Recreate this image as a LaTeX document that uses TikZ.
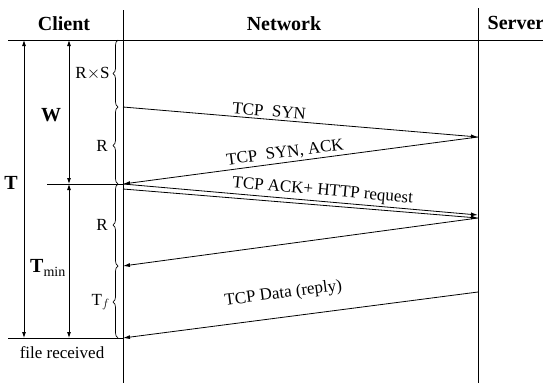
\documentclass[tikz,border=0pt]{standalone}
\usepackage{fontspec}
\setmainfont{Liberation Serif}
\usetikzlibrary{arrows.meta,decorations.pathreplacing}

\begin{document}
\begin{tikzpicture}[x=1pt, y=-1pt,
	msg/.style={line width=0.8pt, -{Latex[length=7pt,width=4pt]}},
	span/.style={line width=0.8pt, {Latex[length=6pt,width=4pt]}-{Latex[length=6pt,width=4pt]}},
	brc/.style={line width=0.7pt, decorate, decoration={brace, amplitude=5pt}},
	lbl/.style={font=\fontsize{17}{19}\selectfont, inner sep=2pt},
	head/.style={font=\fontsize{20}{22}\selectfont\bfseries}]
	\useasboundingbox (0,0) rectangle (543,383);
	% lifelines and time axis
	\draw[line width=1pt] (123,10) -- (123,383);
	\draw[line width=1pt] (478,8) -- (478,383);
	\draw[line width=0.9pt] (8,40) -- (543,40);
	\draw[line width=0.9pt] (47,184) -- (123,184);
	\draw[line width=0.9pt] (8,338) -- (123,338);
	\node[head] (client) at (64,24) {Client};
	\node[head] (network) at (284,24) {Network};
	\node[head] (server) at (516,23) {Server};
	% points on the lifelines
	\coordinate (c1) at (123,107);
	\coordinate (c2) at (123,184);
	\coordinate (c2b) at (123,189);
	\coordinate (c3) at (123,266);
	\coordinate (c4) at (123,338);
	\coordinate (s1) at (478,137);
	\coordinate (s2) at (478,215);
	\coordinate (s2b) at (478,218);
	\coordinate (s3) at (478,292);
	% messages
	\draw[msg] (c1) -- node[lbl, sloped, above, pos=0.41] {TCP\ \ SYN} (s1);
	\draw[msg] (s1) -- (c2) node[lbl, sloped, above, pos=0.54] {TCP\ \ SYN, ACK};
	\draw[msg] (c2) -- node[lbl, sloped, above, pos=0.56] {TCP ACK+ HTTP request} (s2);
	\draw[msg] (c2b) -- (s2b);
	\draw[msg] (s2b) -- (c3);
	\draw[msg] (s3) -- (c4) node[lbl, sloped, above=13pt, pos=0.54] {TCP Data (reply)};
	% braces
	\draw[brc] (118,107) -- node[lbl, left=6pt] (rs) {R${\times}$S} (118,40);
	\draw[brc] (118,184) -- node[lbl, left=8pt] (r1) {R} (118,107);
	\draw[brc] (118,266) -- node[lbl, left=8pt] (r2) {R} (118,184);
	\draw[brc] (118,338) -- node[lbl, left=6pt] (tf) {T$_f$} (118,266);
	% intervals
	\draw[span] (24,40) -- (24,338);
	\draw[span] (69,40) -- (69,184);
	\draw[span] (69,184) -- (69,338);
	\node[head] (ttot) at (11,183) {T};
	\node[head] (wlbl) at (51,115) {W};
	\node[head] (tmin) at (48,268) {T$_{\mathrm{min}}$};
	\node[lbl] (recv) at (62,353) {file received};
\end{tikzpicture}
\end{document}
